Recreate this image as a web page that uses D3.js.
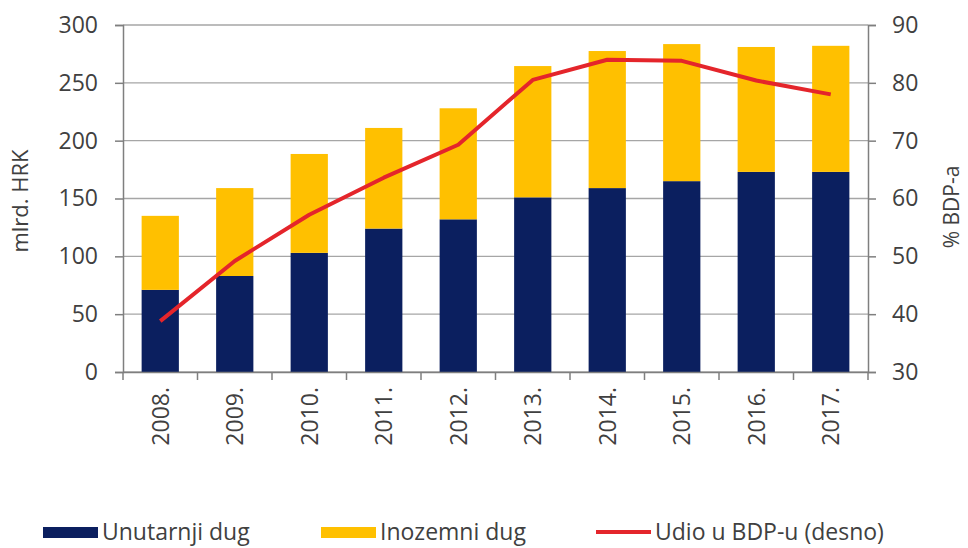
<!DOCTYPE html>
<html>
<head>
<meta charset="utf-8">
<script src="https://cdn.jsdelivr.net/npm/d3@7"></script>
<style>
    body { margin: 0; background: white; }
    text { font-family: "Open Sans", sans-serif; fill: #404040; }
</style>
</head>
<body>
<div class="main"></div>
<script>
// javni dug
var years = ["2008.", "2009.", "2010.", "2011.", "2012.", "2013.", "2014.", "2015.", "2016.", "2017."];
var unutarnji = [71, 83, 103, 124, 132, 151, 159, 165, 173, 173];
var inozemni = [64, 76, 85.5, 87, 96, 113.5, 118.5, 118.5, 108, 109];
var udio = [38.8, 49.2, 57.2, 63.6, 69.3, 80.5, 84.0, 83.8, 80.4, 78.0];
var leftTicks = [0, 50, 100, 150, 200, 250, 300];
var rightTicks = [30, 40, 50, 60, 70, 80, 90];
var legendNames = ["Unutarnji dug", "Inozemni dug", "Udio u BDP-u (desno)"];

var width = 968;
var height = 548;
var margin = { top: 25, right: 100, bottom: 176, left: 123 };

var navy = "#0b1f5f";
var yellow = "#ffc000";
var red = "#e4252b";

var svg = d3.select("div.main")
    .append("svg")
    .attr("width", width)
    .attr("height", height)

var x = d3.scaleBand()
    .domain(years)
    .range([margin.left, width - margin.right])
    .paddingInner(0.5)
    .paddingOuter(0.25)

var y = d3.scaleLinear().domain([0, 300]).range([height - margin.bottom, margin.top])
var y2 = d3.scaleLinear().domain([30, 90]).range([height - margin.bottom, margin.top])

// gridlines
svg.append("g").selectAll("line")
    .data(leftTicks)
    .enter()
    .append("line")
    .attr("x1", margin.left)
    .attr("x2", width - margin.right)
    .attr("y1", d => y(d))
    .attr("y2", d => y(d))
    .style("stroke", "#a6a6a6")
    .style("stroke-width", 1.3)

// stacked bars
var stacked = years.map(function (d, i) { return { year: d, unutarnji: unutarnji[i], inozemni: inozemni[i] } })
var series = d3.stack().keys(["unutarnji", "inozemni"])(stacked)
var colors = [navy, yellow]

svg.append("g").selectAll("g")
    .data(series)
    .enter()
    .append("g")
    .attr("fill", (d, i) => colors[i])
    .selectAll("rect")
    .data(d => d)
    .enter()
    .append("rect")
    .attr("x", d => x(d.data.year))
    .attr("width", x.bandwidth())
    .attr("y", d => y(d[1]))
    .attr("height", d => y(d[0]) - y(d[1]))

// left axis
var axL = svg.append("g")
    .attr("transform", "translate(" + margin.left + ",0)")
    .call(d3.axisLeft(y).tickValues(leftTicks).tickSize(8).tickPadding(17))
axL.select(".domain").attr("stroke", "#7f7f7f").attr("stroke-width", 1.5)
axL.selectAll(".tick line").attr("stroke", "#7f7f7f").attr("stroke-width", 1.5)
axL.selectAll("text").style("font-size", "23px").attr("fill", "#404040").style("font-family", "Open Sans")

// right axis
var axR = svg.append("g")
    .attr("transform", "translate(" + (width - margin.right) + ",0)")
    .call(d3.axisRight(y2).tickValues(rightTicks).tickSize(8).tickPadding(16))
axR.select(".domain").attr("stroke", "#7f7f7f").attr("stroke-width", 1.5)
axR.selectAll(".tick line").attr("stroke", "#7f7f7f").attr("stroke-width", 1.5)
axR.selectAll("text").style("font-size", "23px").attr("fill", "#404040").style("font-family", "Open Sans")

// x axis, ticks sit between the bars
var axX = svg.append("g")
    .attr("transform", "translate(0," + (height - margin.bottom) + ")")
    .call(d3.axisBottom(x).tickSize(0).tickPadding(0))
axX.select(".domain").attr("stroke", "#7f7f7f").attr("stroke-width", 1.5)
axX.selectAll("text")
    .style("font-size", "23px")
    .style("font-family", "Open Sans")
    .attr("fill", "#404040")
    .attr("text-anchor", "end")
    .attr("transform", "translate(0,15) rotate(-90)")
    .attr("dy", "0.36em")
    .attr("y", 0)

var bounds = years.map(d => x(d) - x.step() * x.paddingInner() / 2).concat([width - margin.right])
axX.selectAll("line.sep")
    .data(bounds)
    .enter()
    .append("line")
    .attr("class", "sep")
    .attr("x1", d => d)
    .attr("x2", d => d)
    .attr("y1", 0)
    .attr("y2", 8)
    .attr("stroke", "#7f7f7f")
    .attr("stroke-width", 1.5)

// udio u BDP-u line
var line = d3.line()
    .x((d, i) => x(years[i]) + x.bandwidth() / 2)
    .y(d => y2(d))

svg.append("path")
    .datum(udio)
    .attr("d", line)
    .attr("fill", "none")
    .attr("stroke", red)
    .attr("stroke-width", 4)
    .attr("stroke-linejoin", "round")

// axis titles
svg.append("text")
    .attr("transform", "translate(20,201) rotate(-90)")
    .attr("text-anchor", "middle")
    .attr("dy", "0.35em")
    .style("font-size", "22px")
    .text("mlrd. HRK")

svg.append("text")
    .attr("transform", "translate(952,207) rotate(-90)")
    .attr("text-anchor", "middle")
    .attr("dy", "0.35em")
    .style("font-size", "21px")
    .text("% BDP-a")

// legend
var legX = [43, 321, 596];
var leg = svg.append("g").selectAll("g")
    .data(legendNames)
    .enter()
    .append("g")
    .attr("transform", (d, i) => "translate(" + legX[i] + ",532)")

leg.filter((d, i) => i < 2).append("rect")
    .attr("x", 0)
    .attr("y", -5)
    .attr("width", 55)
    .attr("height", 11)
    .attr("fill", (d, i) => colors[i])

leg.filter((d, i) => i == 2).append("line")
    .attr("x1", 0)
    .attr("x2", 55)
    .attr("y1", 0)
    .attr("y2", 0)
    .attr("stroke", red)
    .attr("stroke-width", 4)

leg.append("text")
    .attr("x", 59)
    .attr("y", 0)
    .attr("dy", "0.36em")
    .style("font-size", "23px")
    .text(d => d)
</script>
</body>
</html>
